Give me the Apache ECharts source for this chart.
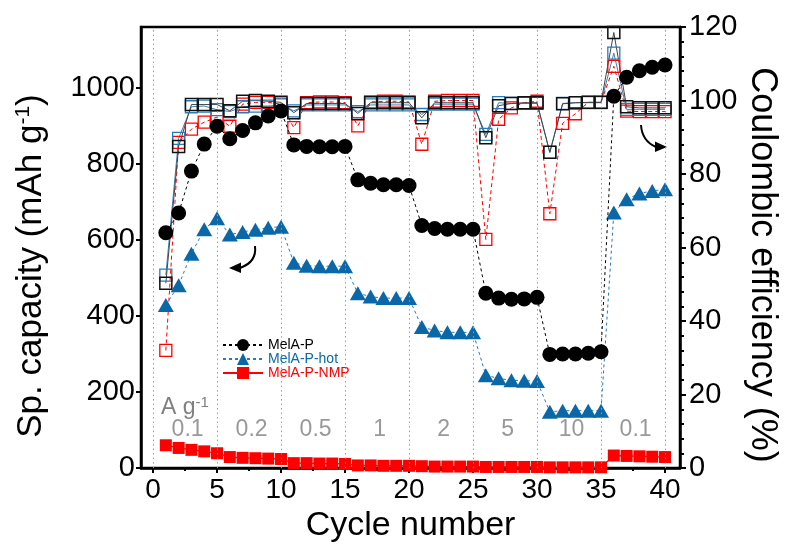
<!DOCTYPE html>
<html>
<head>
<meta charset="utf-8">
<script src="https://cdn.jsdelivr.net/npm/echarts@6/dist/echarts.min.js"></script>
<style>
html,body{margin:0;padding:0;background:#fff;}
#chart{width:788px;height:548px;}
</style>
</head>
<body>
<div id="chart"></div>
<script>
var cycles = [1,2,3,4,5,6,7,8,9,10,11,12,13,14,15,16,17,18,19,20,21,22,23,24,25,26,27,28,29,30,31,32,33,34,35,36,37,38,39,40];

// Specific capacity (mAh g-1)
var capMelAP = [619,671,781,852,899,866,888,908,926,939,850,846,845,845,846,758,749,745,745,743,638,630,628,628,628,460,447,444,445,449,299,300,300,302,306,978,1028,1045,1054,1060];
var capHot   = [429,481,564,628,657,614,621,627,632,635,540,532,531,531,531,460,451,447,447,447,371,362,357,357,357,244,236,231,230,229,148,151,151,151,151,672,707,722,729,733];
var capNMP   = [60,53,48,44,39,29,27,26,25,24,13,13,12,12,11,7,7,6,6,6,5,4,4,4,4,3,3,3,3,3,2,2,2,2,2,33,32,31,30,29];

// Coulombic efficiency (%)
var ceMelAP = [50.3,87.5,98.9,98.9,98.9,97.2,99.8,100,99.8,99.5,96.7,99.2,99.2,99.2,99.2,96.5,99.4,99.4,99.4,99.4,95.3,99.4,99.4,99.4,99.4,89.9,98.6,99.2,99.4,99.4,85.9,99.1,99.4,99.5,99.5,118.5,98.3,98.0,98.0,98.0];
var ceHot   = [52.5,89.7,98.3,98.5,97.5,97.0,98.3,98.5,98.5,98.8,97.2,98.8,98.8,98.8,98.8,97.0,98.8,98.8,98.8,98.8,96.2,99.0,99.0,99.0,99.0,90.8,99.4,99.2,99.2,99.2,85.9,99.2,99.4,99.4,99.4,112.9,97.6,97.6,97.6,97.6];
var ceNMP   = [32,88.6,92.2,94.1,95.5,93.0,99.0,99.5,99.5,99.0,92.6,99.4,99.6,99.6,99.4,93.1,99.6,99.8,99.8,99.6,88.1,99.8,100,100,100,62.2,94.9,98.0,99.4,99.8,69.2,93.8,96.4,99.5,99.5,109.3,97.1,97.0,97.0,97.0];

// Current densities (A g-1), one per 5-cycle block
var rates = ['0.1','0.2','0.5','1','2','5','10','0.1'];

// Tick values
var xMajor = [0,5,10,15,20,25,30,35,40];
var xMinor = [2.5,7.5,12.5,17.5,22.5,27.5,32.5,37.5];

var FONT = 'Liberation Sans';
var BLUE = '#0a67a8';
var RED = '#ff0000';

function pairs(ys){ return cycles.map(function(c,i){ return [c, ys[i]]; }); }

var rateData = rates.map(function(r,i){ return [5*i + 2.7, 100, r]; });

var chart = echarts.init(document.getElementById('chart'), null, {renderer:'canvas'});

var option = {
  animation: false,
  backgroundColor: '#fff',
  grid: {left:141, right:108, top:27, bottom:77, show:true, borderColor:'#000', borderWidth:2.5, backgroundColor:'transparent'},
  legend: {
    orient:'vertical', left:217, top:333, itemWidth:40, itemHeight:15, itemGap:0,
    textStyle:{fontFamily:FONT, fontSize:14},
    data:[
      {name:'MelA-P', textStyle:{color:'#000'}},
      {name:'MelA-P-hot', textStyle:{color:BLUE}},
      {name:'MelA-P-NMP', textStyle:{color:RED}}
    ]
  },
  xAxis: [{
    type:'value', min:-0.94, max:41.17, position:'bottom',
    name:'Cycle number', nameLocation:'middle', nameGap:34,
    nameTextStyle:{fontFamily:FONT, fontSize:34, color:'#000'},
    axisLine:{onZero:false, lineStyle:{color:'#000', width:2.5}},
    axisTick:{show:true, inside:false, length:5, lineStyle:{color:'#000', width:2}, customValues:xMajor},
    axisLabel:{fontFamily:FONT, fontSize:28, color:'#000', margin:8, customValues:xMajor},
    splitLine:{show:false}
  },{
    type:'value', min:-0.94, max:41.17, position:'bottom',
    axisLine:{show:false, onZero:false},
    axisTick:{show:true, length:3, lineStyle:{color:'#000', width:2}, customValues:xMinor},
    axisLabel:{show:false},
    splitLine:{show:false}
  }],
  yAxis: [{
    type:'value', min:0, max:1160, interval:200, position:'left',
    axisLine:{show:true, onZero:false, lineStyle:{color:'#000', width:2.5}},
    axisTick:{show:true, length:5, lineStyle:{color:'#000', width:2}},
    axisLabel:{fontFamily:FONT, fontSize:29, color:'#000', margin:6, showMaxLabel:false,
      formatter:function(v){ return v > 1000 ? '' : String(v); }},
    splitLine:{show:false}
  },{
    type:'value', min:0, max:120, interval:20, position:'right',
    axisLine:{show:true, onZero:false, lineStyle:{color:'#000', width:2.5}},
    axisTick:{show:true, length:6, lineStyle:{color:'#000', width:2}},
    minorTick:{show:true, splitNumber:5, length:4, lineStyle:{color:'#000', width:2}},
    axisLabel:{fontFamily:FONT, fontSize:29, color:'#000', margin:9},
    splitLine:{show:false}
  }],
  graphic: [
    {type:'text', x:31, y:266, rotation:Math.PI/2,
      style:{text:'{a|Sp. capacity (mAh g}{s|-1}{a|)}', align:'center', verticalAlign:'middle',
        rich:{a:{fontFamily:FONT, fontSize:35, fill:'#000'}, s:{fontFamily:FONT, fontSize:21, fill:'#000', padding:[0,0,16,0]}}}},
    {type:'text', x:762, y:265, rotation:-Math.PI/2,
      style:{text:'Coulombic efficiency (%)', align:'center', verticalAlign:'middle',
        fontFamily:FONT, fontSize:36, fill:'#000'}},
    {type:'text', left:161, top:395, style:{rich:{a:{fontFamily:FONT, fontSize:23, fill:'#808080'}, s:{fontFamily:FONT, fontSize:15, fill:'#808080', padding:[0,0,10,0]}}, text:'{a|A g}{s|-1}'}},
    {type:'bezierCurve', shape:{x1:255, y1:246, cpx1:257, cpy1:262, x2:240, y2:268}, style:{stroke:'#000', lineWidth:2, fill:null}},
    {type:'polygon', shape:{points:[[229,268],[241,262.5],[241,273]]}, style:{fill:'#000'}},
    {type:'bezierCurve', shape:{x1:641, y1:125, cpx1:642, cpy1:141, x2:656, y2:147}, style:{stroke:'#000', lineWidth:2, fill:null}},
    {type:'polygon', shape:{points:[[667,147],[655,141.5],[655,152]]}, style:{fill:'#000'}}
  ],
  series: [
    {
      name:'grid', type:'line', data:[], xAxisIndex:0, yAxisIndex:0, silent:true,
      markLine:{silent:true, symbol:['none','none'], label:{show:false},
        lineStyle:{color:'#9a9a9a', type:[1.5,3], width:1},
        data: xMajor.map(function(v){ return {xAxis:v}; })}
    },
    {
      name:'MelA-P-NMP CE', type:'line', yAxisIndex:1, data:pairs(ceNMP),
      symbol:'rect', symbolSize:12,
      itemStyle:{color:'transparent', borderColor:RED, borderWidth:1.3},
      lineStyle:{color:RED, width:1, type:[4,3]}, z:3
    },
    {
      name:'MelA-P-hot CE', type:'line', yAxisIndex:1, data:pairs(ceHot),
      symbol:'rect', symbolSize:12,
      itemStyle:{color:'transparent', borderColor:'#2a7ab8', borderWidth:1.3},
      lineStyle:{color:'#3a80b8', width:1}, z:3
    },
    {
      name:'MelA-P CE', type:'line', yAxisIndex:1, data:pairs(ceMelAP),
      symbol:'rect', symbolSize:12,
      itemStyle:{color:'transparent', borderColor:'#111', borderWidth:1.5},
      lineStyle:{color:'#444', width:1}, z:3
    },
    {
      name:'MelA-P-NMP', type:'line', yAxisIndex:0, data:pairs(capNMP),
      symbol:'rect', symbolSize:12,
      itemStyle:{color:RED},
      lineStyle:{color:RED, width:1.2}, z:4
    },
    {
      name:'MelA-P-hot', type:'line', yAxisIndex:0, data:pairs(capHot),
      symbol:'triangle', symbolSize:[16,14],
      itemStyle:{color:BLUE},
      lineStyle:{color:'#2a7ab8', width:1, type:[3,3]}, z:4
    },
    {
      name:'MelA-P', type:'line', yAxisIndex:0, data:pairs(capMelAP),
      symbol:'circle', symbolSize:15,
      itemStyle:{color:'#000'},
      lineStyle:{color:'#000', width:1, type:[3,3]}, z:5
    },
    {
      name:'rates', type:'scatter', yAxisIndex:0, data:rateData,
      symbolSize:0, silent:true,
      label:{show:true, position:'inside', formatter:function(p){return p.data[2];},
        fontFamily:FONT, fontSize:23, color:'#808080'}
    }
  ]
};
chart.setOption(option);
</script>
</body>
</html>
